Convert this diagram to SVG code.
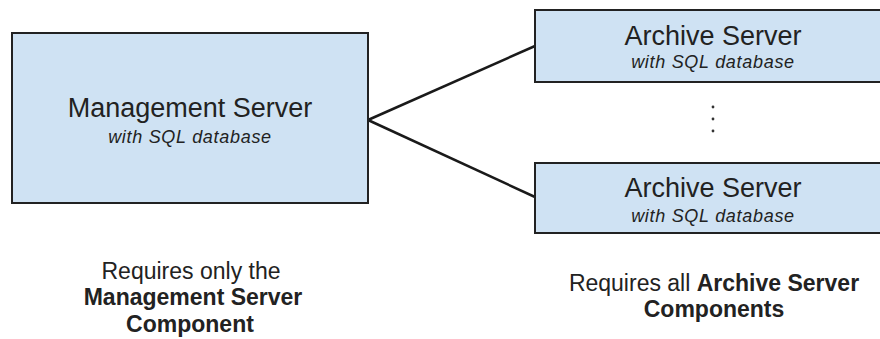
<svg xmlns="http://www.w3.org/2000/svg" width="880" height="339" viewBox="0 0 880 339">
<style>
.box{fill:#cfe2f3;stroke:#222;stroke-width:2}
.t{font-family:"Liberation Sans",Arial,sans-serif;fill:#222;text-anchor:middle}
.title{font-size:27px}
.sub{font-size:18px;font-style:italic;letter-spacing:0.7px}
.note{font-size:23px}
.b{font-weight:bold}
.conn{stroke:#1a1a1a;stroke-width:2.5;fill:none}
</style>
<rect width="880" height="339" fill="#fff"/>
<g id="connectors">
<line class="conn" x1="368" y1="120" x2="535" y2="46"/>
<line class="conn" x1="368" y1="120" x2="535" y2="197"/>
</g>
<g id="management">
<rect class="box" x="12" y="33" width="356" height="170"/>
<text class="t title" x="190" y="117">Management Server</text>
<text class="t sub" x="190" y="143">with SQL database</text>
</g>
<g id="archive1">
<rect class="box" x="535" y="10" width="360" height="72"/>
<text class="t title" x="713" y="45">Archive Server</text>
<text class="t sub" x="713" y="68">with SQL database</text>
</g>
<g id="ellipsis">
<circle cx="713" cy="107" r="1.4" fill="#333"/>
<circle cx="713" cy="119" r="1.4" fill="#333"/>
<circle cx="713" cy="131" r="1.4" fill="#333"/>
</g>
<g id="archive2">
<rect class="box" x="535" y="163" width="360" height="70"/>
<text class="t title" x="713" y="197">Archive Server</text>
<text class="t sub" x="713" y="222">with SQL database</text>
</g>
<g id="note-left">
<text class="t note" x="191" y="279">Requires only the</text>
<text class="t note b" x="193" y="305">Management Server</text>
<text class="t note b" x="190" y="332">Component</text>
</g>
<g id="note-right">
<text class="t note" x="714" y="291">Requires all <tspan class="b">Archive Server</tspan></text>
<text class="t note b" x="714" y="317">Components</text>
</g>
</svg>
